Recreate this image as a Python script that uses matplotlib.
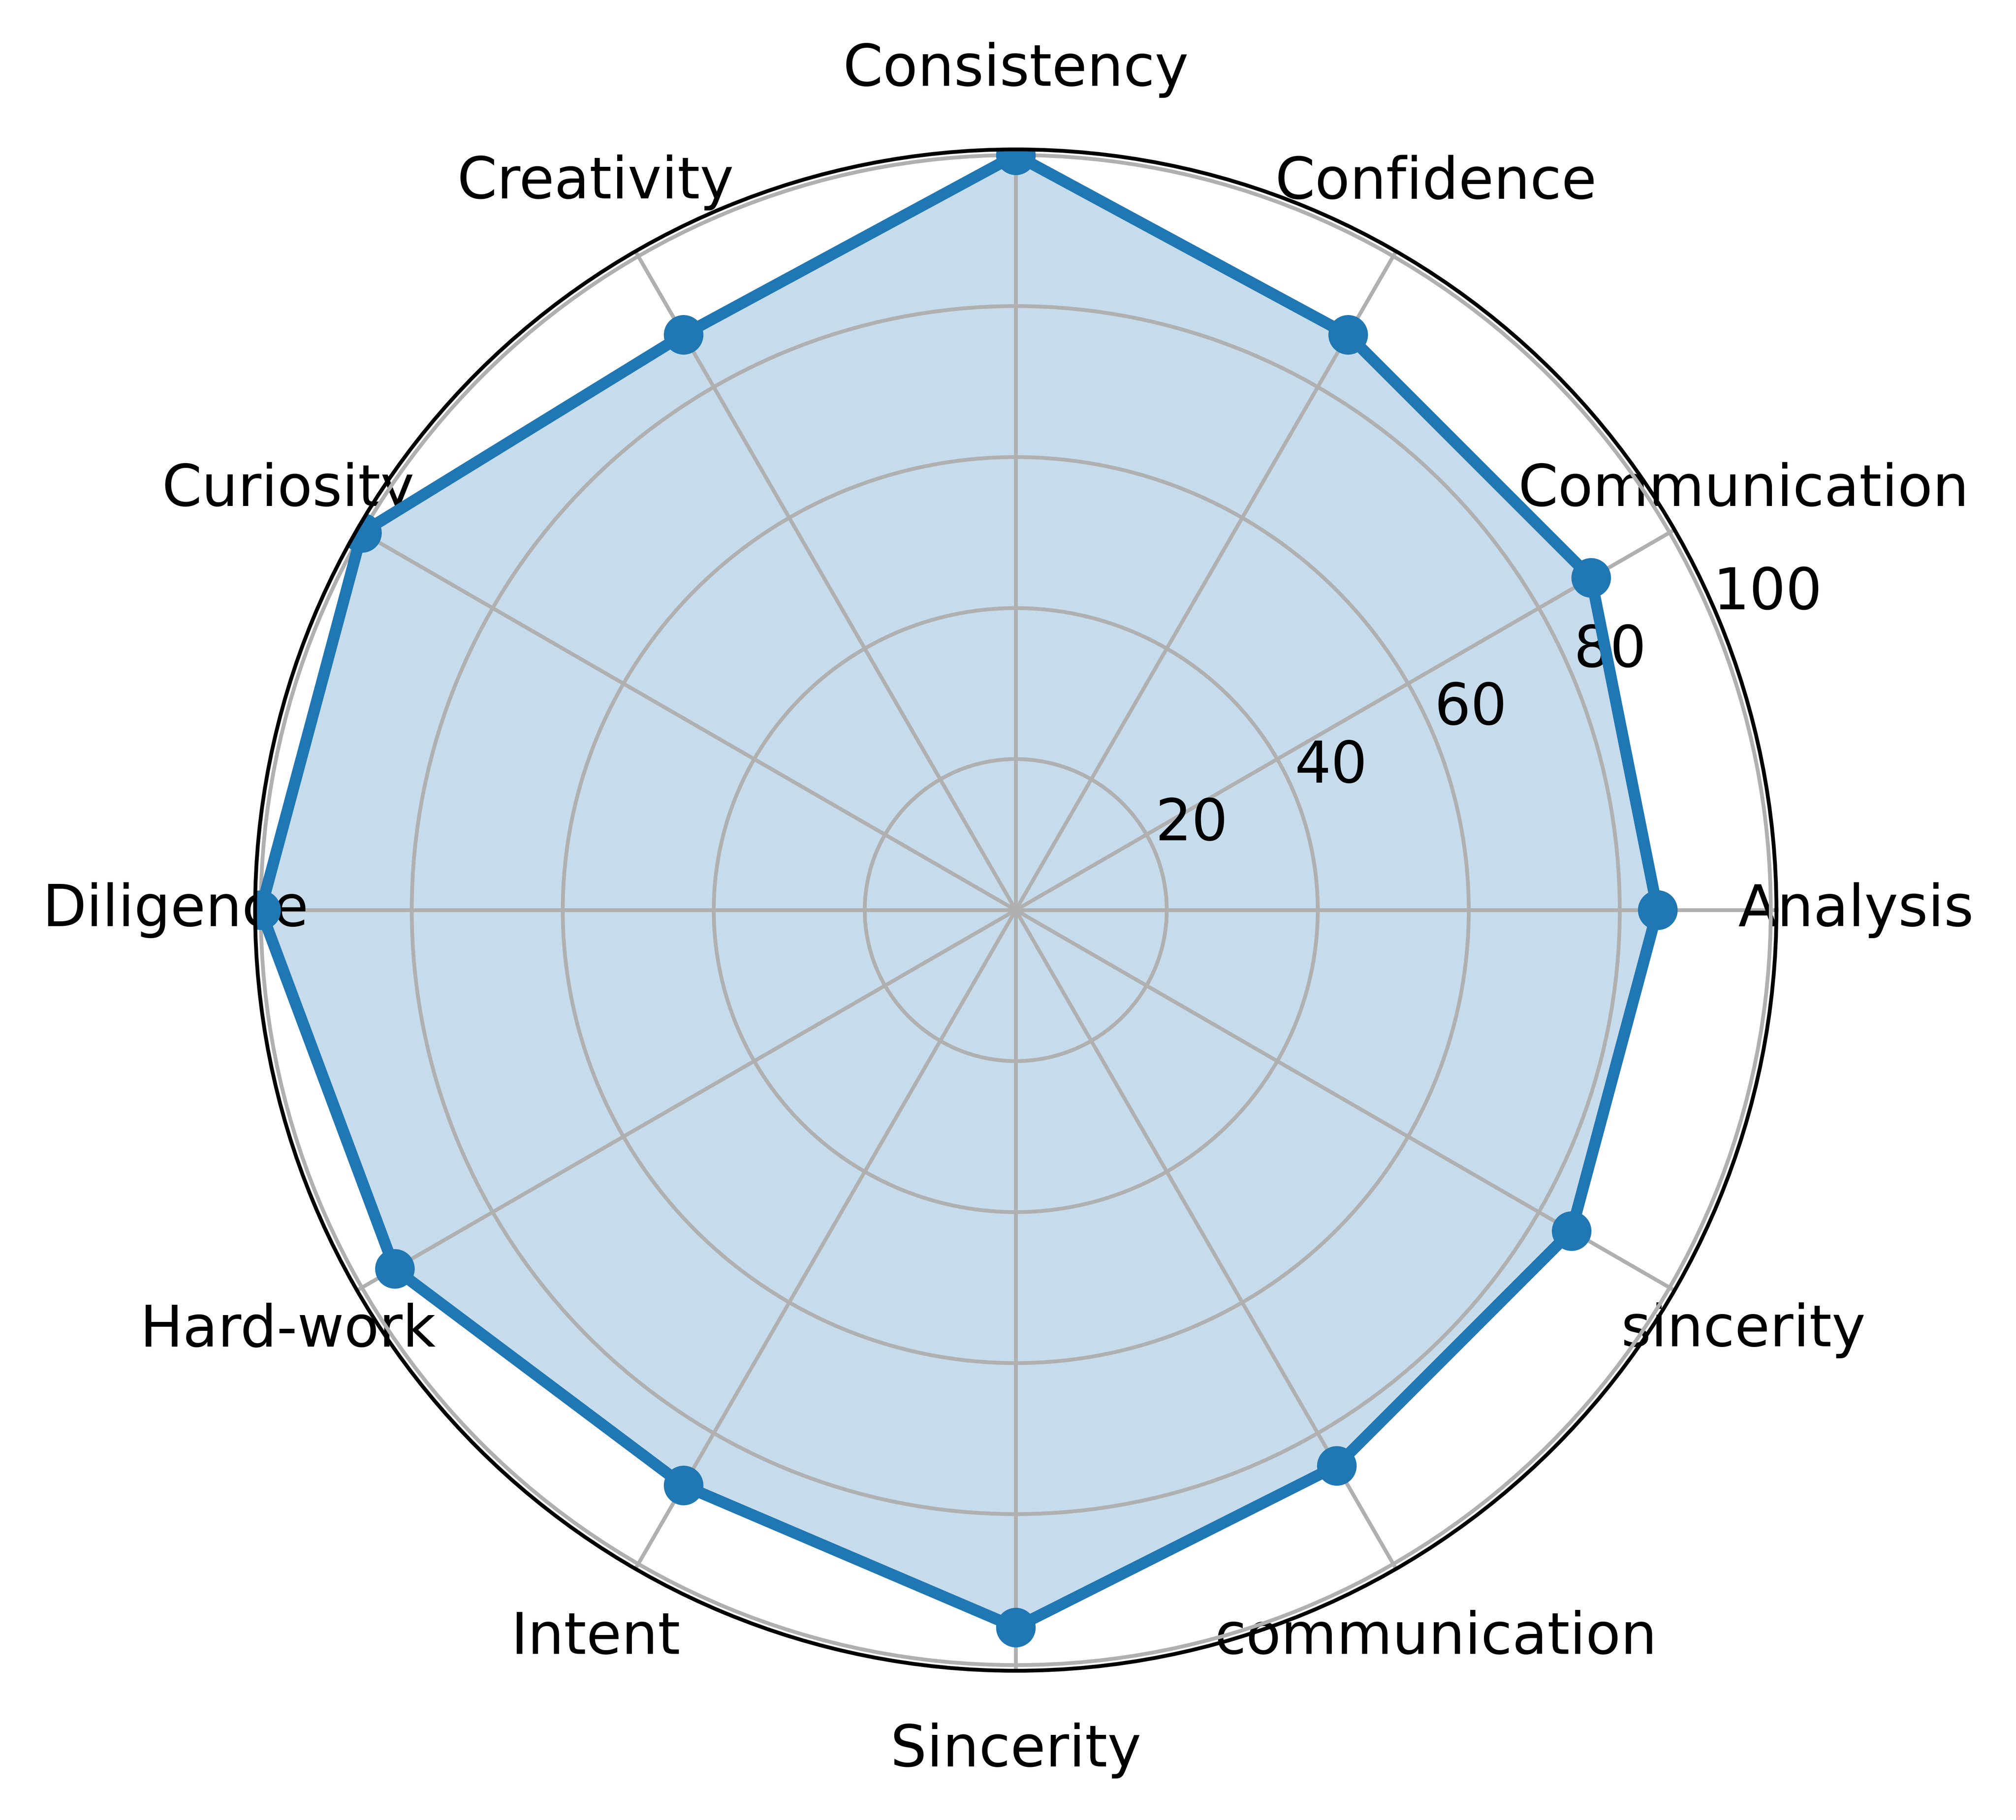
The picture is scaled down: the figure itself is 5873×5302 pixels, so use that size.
import matplotlib
matplotlib.use("Agg")
import matplotlib.pyplot as plt
import numpy as np

# skill scores
categories = ['Analysis', 'Communication', 'Confidence', 'Consistency', 'Creativity',
              'Curiosity', 'Diligence', 'Hard-work', 'Intent', 'Sincerity',
              'communication', 'sincerity']
scores = [85, 88, 88, 100, 88, 100, 100, 95, 88, 95, 85, 85]
r_ticks = [20, 40, 60, 80, 100]

plt.rcParams['font.size'] = 12

n = len(categories)
angles = np.linspace(0, 2 * np.pi, n, endpoint=False).tolist()
vals = scores + scores[:1]
angles_closed = angles + angles[:1]

fig = plt.figure(figsize=(5.873, 5.302), dpi=1000)
ax = fig.add_axes([0.1265, 0.0820, 0.7547, 0.8359], polar=True)

ax.fill(angles_closed, vals, color='C0', alpha=0.25)
ax.plot(angles_closed, vals, color='C0', linewidth=2.4, marker='o', markersize=7.3)

ax.set_xticks(angles)
ax.set_xticklabels(categories)
ax.tick_params(axis='x', pad=6.2)
ax.set_yticks(r_ticks)
ax.set_ylim(0, 100.75)

fig.savefig("out.png", dpi=1000)
